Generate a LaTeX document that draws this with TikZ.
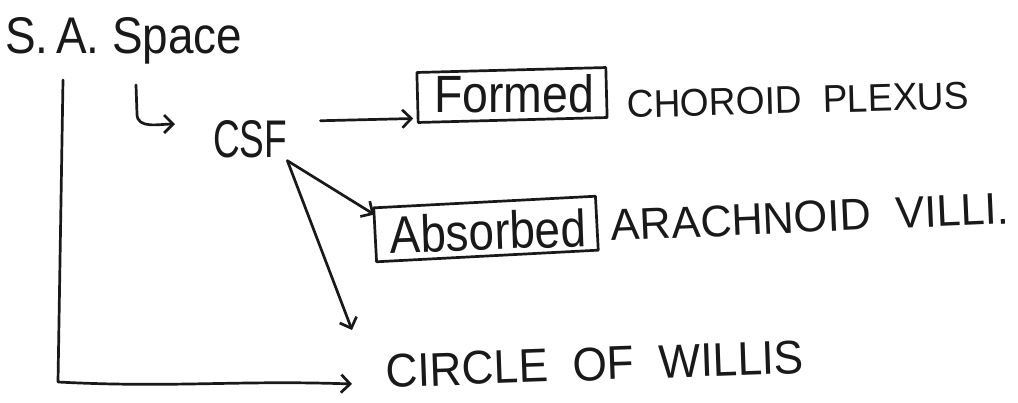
\documentclass[tikz,border=0pt]{standalone}
\usepackage{fontspec}
\setmainfont{Liberation Sans}
\usetikzlibrary{arrows.meta,calc}
\tikzset{
  ink/.style={line width=2.7pt, draw=black!90, line cap=round, line join=round},
  arr/.style={ink, -{Straight Barb[length=9pt,width=18pt,line width=2.7pt]}},
  word/.style={inner sep=0pt, text=black!90},
  tagbox/.style={ink, rectangle, inner sep=0pt},
}
\begin{document}
\begin{tikzpicture}[x=1pt,y=-1pt]
  \useasboundingbox[fill=white] (0,0) rectangle (1018,402);

  % headings and labels
  \node[word, anchor=base west] (sa) at (5,53) {\resizebox{237pt}{36pt}{S.\,A.\ Space}};
  \node[word, anchor=base west] (csf) at (213,157) {\resizebox{74pt}{37pt}{CSF}};

  \node[tagbox, minimum width=189pt, minimum height=50pt, rotate=1.5] (formed) at (512,95) {};
  \node[word] (formedtx) at (514,94) {\resizebox{160pt}{38pt}{Formed}};
  \node[word, rotate=1.5] (cp) at (798,100) {\resizebox{342pt}{27pt}{CHOROID\ \ PLEXUS}};

  \node[tagbox, minimum width=222pt, minimum height=54pt, rotate=3] (absorbed) at (486,229) {};
  \node[word, rotate=2] (abtx) at (488,231) {\resizebox{196pt}{38pt}{Absorbed}};
  \node[word, rotate=2.5] (av) at (810,217) {\resizebox{398pt}{31pt}{ARACHNOID\ \ VILLI.}};

  \node[word, rotate=2] (cow) at (595,364) {\resizebox{418pt}{33pt}{CIRCLE\ \ OF\ \ WILLIS}};

  % free ends of the hand-drawn arrows
  \coordinate (saDown) at (63,80);
  \coordinate (saCorner) at (58,382);
  \coordinate (cowIn) at (352,384);
  \coordinate (hookTop) at (136,85);
  \coordinate (hookTip) at (175,124);
  \coordinate (cowTip) at (352,330);

  % connectors
  \draw[arr] (saDown) -- (saCorner) to[out=-3,in=178] (cowIn);
  \draw[arr] (hookTop) -- (137,114) to[out=-90,in=180] (hookTip);
  \draw[arr] ([xshift=33pt,yshift=18pt]csf.east) -- ([xshift=-3pt,yshift=-21pt]formed.west);
  \draw[arr] ([yshift=-3pt]csf.south east) -- ([xshift=2pt,yshift=-8pt]absorbed.north west);
  \draw[arr] ([yshift=-3pt]csf.south east) -- (cowTip);
\end{tikzpicture}
\end{document}
